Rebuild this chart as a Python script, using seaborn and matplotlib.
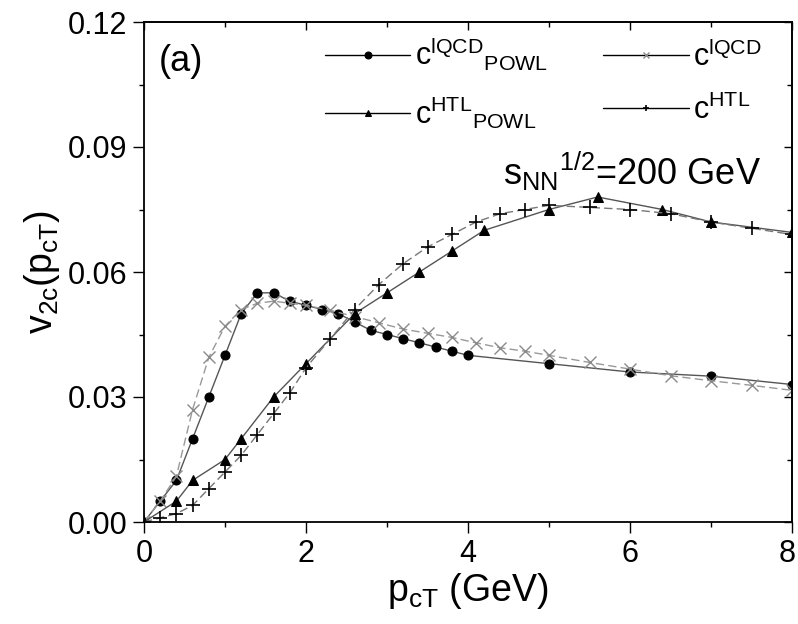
import numpy as np
import pandas as pd
import matplotlib
matplotlib.use("Agg")
import matplotlib.pyplot as plt
import matplotlib.transforms as mtransforms
import seaborn as sns

# ---- data ----
x_lqcd_powl = [0, 0.2, 0.4, 0.6, 0.8, 1.0, 1.2, 1.4, 1.6, 1.8, 2.0, 2.2, 2.4, 2.6, 2.8,
               3.0, 3.2, 3.4, 3.6, 3.8, 4.0, 5.0, 6.0, 7.0, 8.0]
y_lqcd_powl = [0, 0.005, 0.010, 0.020, 0.030, 0.040, 0.050, 0.055, 0.055, 0.053, 0.052,
               0.051, 0.050, 0.048, 0.046, 0.045, 0.044, 0.043, 0.042, 0.041, 0.040,
               0.038, 0.036, 0.035, 0.033]

x_htl_powl = [0, 0.4, 0.6, 1.0, 1.2, 1.6, 2.0, 2.6, 3.0, 3.4, 3.8, 4.2, 5.0, 5.6, 6.4, 7.0, 8.0]
y_htl_powl = [0, 0.005, 0.010, 0.015, 0.020, 0.030, 0.038, 0.050, 0.055, 0.060, 0.065,
              0.070, 0.075, 0.078, 0.075, 0.072, 0.0695]

x_plain = [0, 0.2, 0.4, 0.6, 0.8, 1.0, 1.2, 1.4, 1.6, 1.8, 2.0, 2.3, 2.6, 2.9, 3.2, 3.5,
           3.8, 4.1, 4.4, 4.7, 5.0, 5.5, 6.0, 6.5, 7.0, 7.5, 8.0]
y_lqcd = [0, 0.005, 0.011, 0.027, 0.0395, 0.047, 0.051, 0.0525, 0.053, 0.0525, 0.052,
          0.0508, 0.0493, 0.0478, 0.0463, 0.0453, 0.0443, 0.043, 0.0418, 0.041, 0.040,
          0.0383, 0.0367, 0.0351, 0.0339, 0.0328, 0.0316]
y_htl = [0, 0.001, 0.002, 0.004, 0.008, 0.012, 0.016, 0.021, 0.026, 0.031, 0.037, 0.044,
         0.051, 0.057, 0.062, 0.066, 0.069, 0.072, 0.074, 0.075, 0.076, 0.0755, 0.075,
         0.074, 0.072, 0.0705, 0.069]

x_ticks = [0, 2, 4, 6, 8]
x_minor = [1, 3, 5, 7]
y_ticks = [0.00, 0.03, 0.06, 0.09, 0.12]
y_minor = [0.015, 0.045, 0.075, 0.105]

lab_lqcd_powl = r'c$^{\mathrm{lQCD}}{}_{\mathrm{POWL}}$'
lab_lqcd = r'c$^{\mathrm{lQCD}}$'
lab_htl_powl = r'c$^{\mathrm{HTL}}{}_{\mathrm{POWL}}$'
lab_htl = r'c$^{\mathrm{HTL}}$'

sns.set_theme(style="white")
plt.rcParams['font.family'] = ['Liberation Sans', 'DejaVu Sans']
plt.rcParams['mathtext.fontset'] = 'custom'
plt.rcParams['mathtext.rm'] = 'Liberation Sans'
plt.rcParams['mathtext.it'] = 'Liberation Sans:italic'
plt.rcParams['mathtext.bf'] = 'Liberation Sans:bold'
plt.rcParams['text.color'] = 'black'
plt.rcParams['axes.labelcolor'] = 'black'
plt.rcParams['xtick.color'] = 'black'
plt.rcParams['ytick.color'] = 'black'

fig = plt.figure(figsize=(7.98, 6.24), dpi=100)
ax = fig.add_axes([144 / 798, 102 / 624, 648 / 798, 500 / 624])

df1 = pd.DataFrame({'x': x_lqcd_powl, 'y': y_lqcd_powl})
df2 = pd.DataFrame({'x': x_plain, 'y': y_lqcd})
df3 = pd.DataFrame({'x': x_htl_powl, 'y': y_htl_powl})
df4 = pd.DataFrame({'x': x_plain, 'y': y_htl})

sns.lineplot(data=df1, x='x', y='y', ax=ax, color='#555555', lw=1.0, marker='o',
             markersize=6.5, markerfacecolor='black', markeredgecolor='black',
             label=lab_lqcd_powl, sort=False)
sns.lineplot(data=df2, x='x', y='y', ax=ax, color='#999999', lw=1.0, marker='x',
             markersize=9, markeredgewidth=1.0, markeredgecolor='#8a8a8a',
             dashes=(6, 3), label=lab_lqcd, sort=False)
sns.lineplot(data=df3, x='x', y='y', ax=ax, color='#555555', lw=1.0, marker='^',
             markersize=7, markerfacecolor='black', markeredgecolor='black',
             label=lab_htl_powl, sort=False)
sns.lineplot(data=df4, x='x', y='y', ax=ax, color='#777777', lw=1.0, marker='+',
             markersize=10, markeredgewidth=1.2, markeredgecolor='black',
             dashes=(6, 3), label=lab_htl, sort=False)

ax.set_xlim(0, 8)
ax.set_ylim(0, 0.12)
ax.set_xticks(x_ticks)
ax.set_xticklabels([f'{v:g}' for v in x_ticks])
ax.set_yticks(y_ticks)
ax.set_yticklabels([f'{v:.2f}' for v in y_ticks])
ax.set_xticks(x_minor, minor=True)
ax.set_yticks(y_minor, minor=True)
ax.tick_params(axis='both', which='major', direction='out', length=8, width=1.0,
               labelsize=22, color='black', labelcolor='black', pad=4,
               bottom=True, left=True)
ax.tick_params(axis='both', which='minor', direction='out', length=3.5, width=1.0,
               color='black', bottom=True, left=True)
for s in ax.spines.values():
    s.set_color('black')
    s.set_linewidth(1.3)

# keep the last x tick label inside the canvas
lbls = ax.get_xticklabels()
off = mtransforms.ScaledTranslation(-5 / 100, 0, fig.dpi_scale_trans)
lbls[-1].set_transform(lbls[-1].get_transform() + off)

# top / right inward ticks
secx = ax.secondary_xaxis('top')
secx.set_xticks(x_ticks)
secx.set_xticks(x_minor, minor=True)
secx.tick_params(which='major', direction='in', length=6, width=1.0, labeltop=False, color='black')
secx.tick_params(which='minor', direction='in', length=3.5, width=1.0, color='black')
secx.set_xticklabels([])
secy = ax.secondary_yaxis('right')
secy.set_yticks(y_ticks)
secy.set_yticks(y_minor, minor=True)
secy.tick_params(which='major', direction='in', length=6, width=1.0, labelright=False, color='black')
secy.tick_params(which='minor', direction='in', length=3.5, width=1.0, color='black')
secy.set_yticklabels([])

ax.set_xlabel(r'p$_{\mathrm{cT}}$ (GeV)', fontsize=27, labelpad=2)
ax.set_ylabel(r'v$_{\mathrm{2c}}$(p$_{\mathrm{cT}}$)', fontsize=27, labelpad=4)

handles, labels = ax.get_legend_handles_labels()
order = [labels.index(l) for l in [lab_lqcd_powl, lab_htl_powl, lab_lqcd, lab_htl]]
leg = ax.legend([handles[i] for i in order], [labels[i] for i in order],
                loc='upper left', bbox_to_anchor=(0.279, 0.972), ncol=2, frameon=False,
                fontsize=22, handlelength=2.8, handletextpad=0.15, columnspacing=1.8,
                labelspacing=0.7, borderpad=0, borderaxespad=0, numpoints=1)
for h in leg.get_lines():
    h.set_color('black')
    h.set_linestyle('-')
    h.set_markersize(5)
for t in leg.get_texts():
    t.set_color('black')

ax.text(0.18, 0.1105, '(a)', fontsize=26, va='center', ha='left', color='black')
ax.text(4.43, 0.081, r's$_{\mathrm{NN}}$$^{\mathrm{1/2}}$=200 GeV', fontsize=26,
        va='baseline', ha='left', color='black')

fig.savefig('out.png', dpi=100)
